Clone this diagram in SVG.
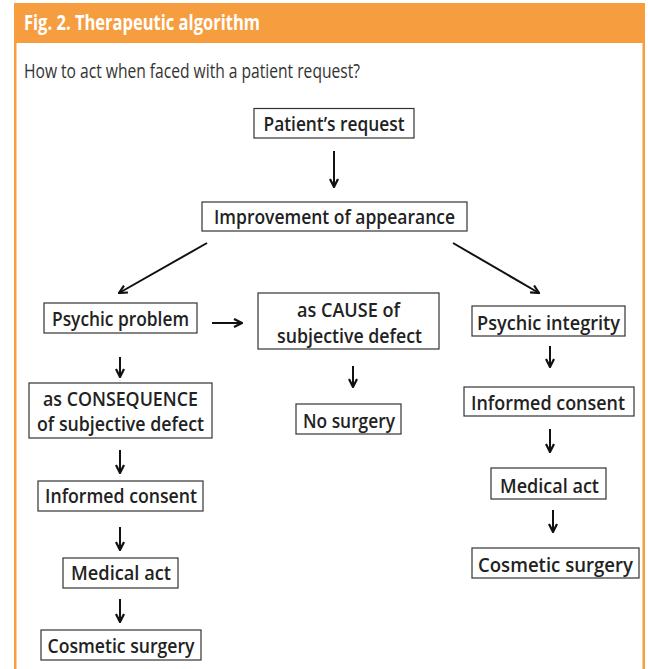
<svg xmlns="http://www.w3.org/2000/svg" width="648" height="669" viewBox="0 0 648 669">
<style>
.frame{fill:#F69E3F}
.box{fill:#fff;stroke:#333;stroke-width:1.2}
.t{font-family:"Open Sans","Liberation Sans",sans-serif;font-weight:600;font-size:19.5px;fill:#222;text-anchor:middle}
.c line{stroke:#111;stroke-width:2;fill:none}
</style>
<defs>
<marker id="ah" viewBox="0 0 10 10" refX="9" refY="5" markerWidth="10" markerHeight="10" markerUnits="userSpaceOnUse" orient="auto">
<path d="M1,1 L9,5 L1,9" fill="none" stroke="#111" stroke-width="2.2" stroke-linejoin="miter"/>
</marker>
</defs>
<rect width="648" height="669" fill="#fff"/>
<g id="frame">
<rect class="frame" x="14" y="3" width="631" height="40"/>
<rect class="frame" x="14" y="3" width="2.5" height="666"/>
<rect class="frame" x="642.5" y="3" width="2.5" height="666"/>
<text x="24" y="29.5" font-family="'Open Sans','Liberation Sans',sans-serif" font-weight="700" font-size="22" fill="#fff" textLength="236" lengthAdjust="spacingAndGlyphs">Fig. 2. Therapeutic algorithm</text>
<text x="24" y="77.5" font-family="'Open Sans','Liberation Sans',sans-serif" font-size="20.5" fill="#333" textLength="336" lengthAdjust="spacingAndGlyphs">How to act when faced with a patient request?</text>
</g>
<g id="connectors" class="c">
<line x1="334" y1="151" x2="334" y2="187" marker-end="url(#ah)"/>
<line x1="207" y1="243" x2="119" y2="293" marker-end="url(#ah)"/>
<line x1="453" y1="243" x2="539" y2="293" marker-end="url(#ah)"/>
<line x1="212" y1="323" x2="242" y2="323" marker-end="url(#ah)"/>
<line x1="120" y1="357" x2="120" y2="377" marker-end="url(#ah)"/>
<line x1="353" y1="366" x2="353" y2="387" marker-end="url(#ah)"/>
<line x1="120" y1="450" x2="120" y2="473" marker-end="url(#ah)"/>
<line x1="120" y1="527" x2="120" y2="550" marker-end="url(#ah)"/>
<line x1="120" y1="599" x2="120" y2="622" marker-end="url(#ah)"/>
<line x1="550" y1="346" x2="550" y2="367" marker-end="url(#ah)"/>
<line x1="550" y1="429" x2="550" y2="452" marker-end="url(#ah)"/>
<line x1="553" y1="510" x2="553" y2="532" marker-end="url(#ah)"/>
</g>
<g id="n-request"><rect class="box" x="254" y="108.5" width="160" height="29.5"/><text class="t" x="334" y="131" textLength="141" lengthAdjust="spacingAndGlyphs">Patient’s request</text></g>
<g id="n-improvement"><rect class="box" x="202" y="202" width="265" height="29"/><text class="t" x="334.5" y="224" textLength="241" lengthAdjust="spacingAndGlyphs">Improvement of appearance</text></g>
<g id="n-psychic-problem"><rect class="box" x="44" y="303" width="153" height="30"/><text class="t" x="120.5" y="326" textLength="137" lengthAdjust="spacingAndGlyphs">Psychic problem</text></g>
<g id="n-cause"><rect class="box" x="258" y="293" width="181" height="56"/><text class="t" x="348.5" y="317" textLength="103" lengthAdjust="spacingAndGlyphs">as CAUSE of</text><text class="t" x="349.5" y="343" textLength="145" lengthAdjust="spacingAndGlyphs">subjective defect</text></g>
<g id="n-nosurgery"><rect class="box" x="296" y="404" width="105" height="30"/><text class="t" x="349" y="428" textLength="92" lengthAdjust="spacingAndGlyphs">No surgery</text></g>
<g id="n-consequence"><rect class="box" x="29" y="383" width="183" height="55"/><text class="t" x="120.5" y="406" textLength="155" lengthAdjust="spacingAndGlyphs">as CONSEQUENCE</text><text class="t" x="120.5" y="431" textLength="167" lengthAdjust="spacingAndGlyphs">of subjective defect</text></g>
<g id="n-consent-l"><rect class="box" x="38" y="481" width="165" height="30"/><text class="t" x="121" y="503" textLength="152" lengthAdjust="spacingAndGlyphs">Informed consent</text></g>
<g id="n-medical-l"><rect class="box" x="63" y="558" width="115" height="30"/><text class="t" x="121" y="580" textLength="100" lengthAdjust="spacingAndGlyphs">Medical act</text></g>
<g id="n-cosmetic-l"><rect class="box" x="41" y="630" width="160" height="30"/><text class="t" x="121" y="653" textLength="147" lengthAdjust="spacingAndGlyphs">Cosmetic surgery</text></g>
<g id="n-integrity"><rect class="box" x="472" y="306" width="153" height="30"/><text class="t" x="548.5" y="330" textLength="143" lengthAdjust="spacingAndGlyphs">Psychic integrity</text></g>
<g id="n-consent-r"><rect class="box" x="464" y="387" width="170" height="29"/><text class="t" x="548" y="410" textLength="154" lengthAdjust="spacingAndGlyphs">Informed consent</text></g>
<g id="n-medical-r"><rect class="box" x="491" y="468" width="115" height="31"/><text class="t" x="549.5" y="493" textLength="99" lengthAdjust="spacingAndGlyphs">Medical act</text></g>
<g id="n-cosmetic-r"><rect class="box" x="472" y="548" width="167" height="30"/><text class="t" x="555.5" y="572" textLength="155" lengthAdjust="spacingAndGlyphs">Cosmetic surgery</text></g>
</svg>
